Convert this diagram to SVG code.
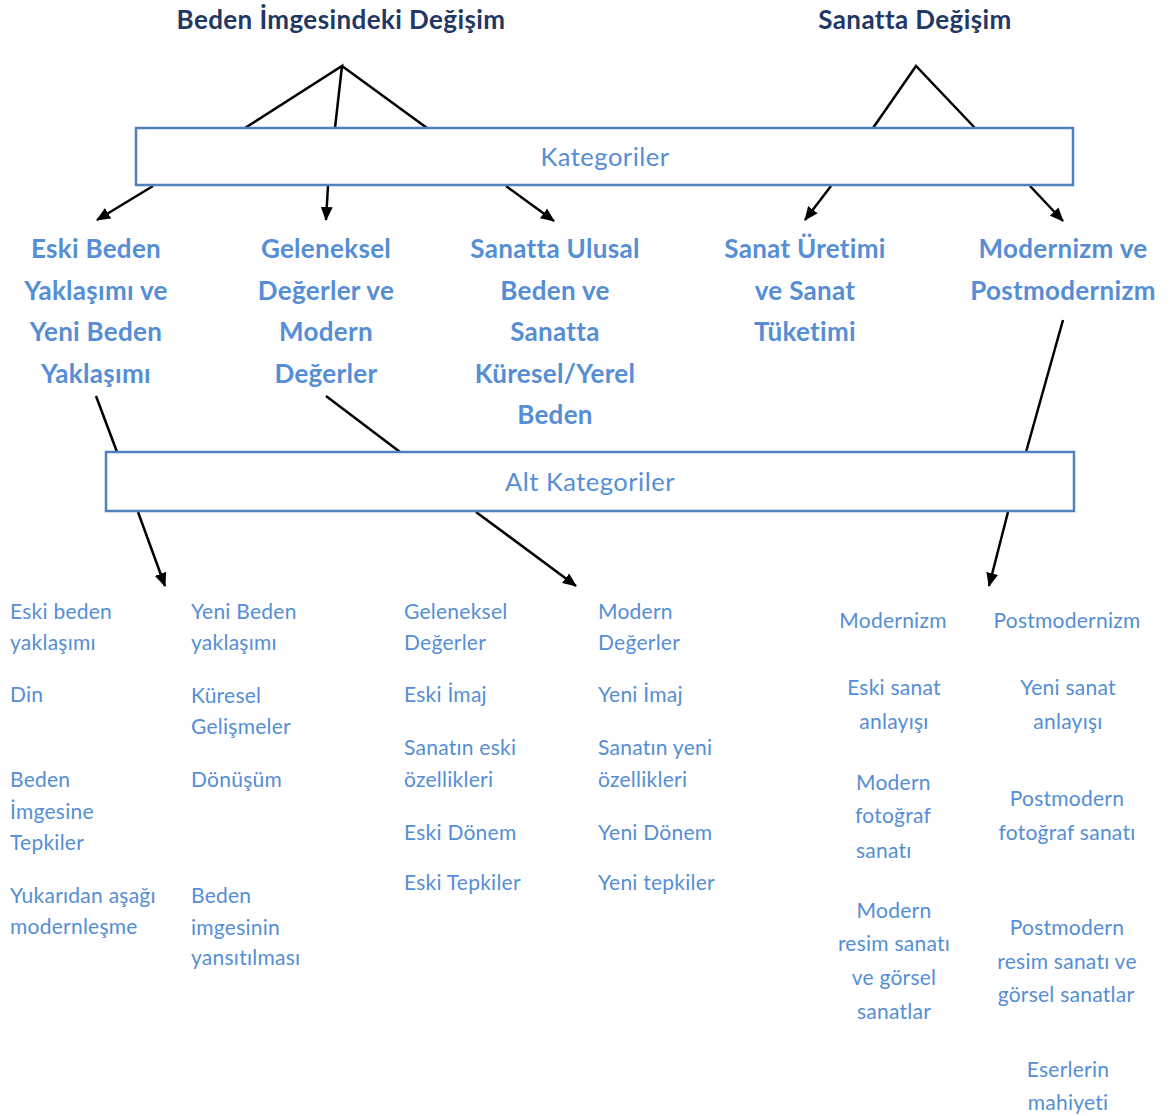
<svg xmlns="http://www.w3.org/2000/svg" width="1173" height="1116" viewBox="0 0 1173 1116">
<style>
.title{font-family:Lato,"Liberation Sans",sans-serif;font-weight:bold;font-size:26px;letter-spacing:0.4px;fill:#1F3864;text-anchor:middle}
.box{fill:#fff;stroke:#4F81BD;stroke-width:2.5}
.boxt{font-family:Lato,"Liberation Sans",sans-serif;font-size:25.5px;letter-spacing:0.5px;fill:#558ED5;text-anchor:middle}
.cat{font-family:Lato,"Liberation Sans",sans-serif;font-weight:bold;font-size:26px;letter-spacing:0.3px;fill:#558ED5;text-anchor:middle}
.sub{font-family:Lato,"Liberation Sans",sans-serif;font-size:21px;letter-spacing:0.25px;fill:#558ED5}
.c{text-anchor:middle}
.ln{stroke:#000;stroke-width:2.5;fill:none}
</style>
<defs>
<marker id="ah" viewBox="0 0 14 12" refX="13" refY="6" markerWidth="14" markerHeight="12" markerUnits="userSpaceOnUse" orient="auto">
<path d="M0,0 L14,6 L0,12 Z" fill="#000"/>
</marker>
</defs>
<g id="connectors">
<path class="ln" d="M245,128 L342,66 L335,128 M342,66 L427,128"/>
<path class="ln" d="M873,128 L916,66 L975,128"/>
<line class="ln" x1="153" y1="186" x2="97" y2="220" marker-end="url(#ah)"/>
<line class="ln" x1="328" y1="186" x2="326" y2="220" marker-end="url(#ah)"/>
<line class="ln" x1="506" y1="186" x2="554" y2="221" marker-end="url(#ah)"/>
<line class="ln" x1="831" y1="186" x2="805" y2="220" marker-end="url(#ah)"/>
<line class="ln" x1="1030" y1="186" x2="1063" y2="221" marker-end="url(#ah)"/>
<line class="ln" x1="96" y1="396" x2="117" y2="452"/>
<line class="ln" x1="326" y1="396" x2="400" y2="452"/>
<line class="ln" x1="1063" y1="320" x2="1026" y2="452"/>
<line class="ln" x1="138" y1="512" x2="165" y2="586" marker-end="url(#ah)"/>
<line class="ln" x1="476" y1="512" x2="576" y2="586" marker-end="url(#ah)"/>
<line class="ln" x1="1008" y1="512" x2="989" y2="586" marker-end="url(#ah)"/>
</g>
<g id="title1"><text class="title" x="341" y="29">Beden İmgesindeki Değişim</text></g>
<g id="title2"><text class="title" x="915" y="29">Sanatta Değişim</text></g>
<g id="kategoriler"><rect class="box" x="136" y="128" width="937" height="57"/><text class="boxt" x="605" y="166">Kategoriler</text></g>
<g id="cat1"><text class="cat" x="96" y="258">Eski Beden</text><text class="cat" x="96" y="300">Yaklaşımı ve</text><text class="cat" x="96" y="341">Yeni Beden</text><text class="cat" x="96" y="383">Yaklaşımı</text></g>
<g id="cat2"><text class="cat" x="326" y="258">Geleneksel</text><text class="cat" x="326" y="300">Değerler ve</text><text class="cat" x="326" y="341">Modern</text><text class="cat" x="326" y="383">Değerler</text></g>
<g id="cat3"><text class="cat" x="555" y="258">Sanatta Ulusal</text><text class="cat" x="555" y="300">Beden ve</text><text class="cat" x="555" y="341">Sanatta</text><text class="cat" x="555" y="383">Küresel/Yerel</text><text class="cat" x="555" y="424">Beden</text></g>
<g id="cat4"><text class="cat" x="805" y="258">Sanat Üretimi</text><text class="cat" x="805" y="300">ve Sanat</text><text class="cat" x="805" y="341">Tüketimi</text></g>
<g id="cat5"><text class="cat" x="1063" y="258">Modernizm ve</text><text class="cat" x="1063" y="300">Postmodernizm</text></g>
<g id="altkategoriler"><rect class="box" x="106" y="452" width="968" height="59"/><text class="boxt" x="590" y="491">Alt Kategoriler</text></g>
<g id="sub1">
<text class="sub" x="10" y="619">Eski beden</text><text class="sub" x="10" y="650">yaklaşımı</text>
<text class="sub" x="10" y="702">Din</text>
<text class="sub" x="10" y="787">Beden</text><text class="sub" x="10" y="819">İmgesine</text><text class="sub" x="10" y="850">Tepkiler</text>
<text class="sub" x="10" y="903">Yukarıdan aşağı</text><text class="sub" x="10" y="934">modernleşme</text>
</g>
<g id="sub2">
<text class="sub" x="191" y="619">Yeni Beden</text><text class="sub" x="191" y="650">yaklaşımı</text>
<text class="sub" x="191" y="703">Küresel</text><text class="sub" x="191" y="734">Gelişmeler</text>
<text class="sub" x="191" y="787">Dönüşüm</text>
<text class="sub" x="191" y="903">Beden</text><text class="sub" x="191" y="935">imgesinin</text><text class="sub" x="191" y="965">yansıtılması</text>
</g>
<g id="sub3">
<text class="sub" x="404" y="619">Geleneksel</text><text class="sub" x="404" y="650">Değerler</text>
<text class="sub" x="404" y="702">Eski İmaj</text>
<text class="sub" x="404" y="755">Sanatın eski</text><text class="sub" x="404" y="787">özellikleri</text>
<text class="sub" x="404" y="840">Eski Dönem</text>
<text class="sub" x="404" y="890">Eski Tepkiler</text>
</g>
<g id="sub4">
<text class="sub" x="598" y="619">Modern</text><text class="sub" x="598" y="650">Değerler</text>
<text class="sub" x="598" y="702">Yeni İmaj</text>
<text class="sub" x="598" y="755">Sanatın yeni</text><text class="sub" x="598" y="787">özellikleri</text>
<text class="sub" x="598" y="840">Yeni Dönem</text>
<text class="sub" x="598" y="890">Yeni tepkiler</text>
</g>
<g id="sub5">
<text class="sub c" x="893" y="628">Modernizm</text>
<text class="sub c" x="894" y="695">Eski sanat</text><text class="sub c" x="894" y="729">anlayışı</text>
<text class="sub" x="856" y="790">Modern</text><text class="sub" x="855" y="823">fotoğraf</text><text class="sub" x="856" y="858">sanatı</text>
<text class="sub c" x="894" y="918">Modern</text><text class="sub c" x="894" y="951">resim sanatı</text><text class="sub c" x="894" y="985">ve görsel</text><text class="sub c" x="894" y="1019">sanatlar</text>
</g>
<g id="sub6">
<text class="sub c" x="1067" y="628">Postmodernizm</text>
<text class="sub c" x="1068" y="695">Yeni sanat</text><text class="sub c" x="1068" y="729">anlayışı</text>
<text class="sub c" x="1067" y="806">Postmodern</text><text class="sub c" x="1067" y="840">fotoğraf sanatı</text>
<text class="sub c" x="1067" y="935">Postmodern</text><text class="sub c" x="1067" y="969">resim sanatı ve</text><text class="sub c" x="1066" y="1002">görsel sanatlar</text>
<text class="sub c" x="1068" y="1077">Eserlerin</text><text class="sub c" x="1068" y="1110">mahiyeti</text>
</g>
</svg>
